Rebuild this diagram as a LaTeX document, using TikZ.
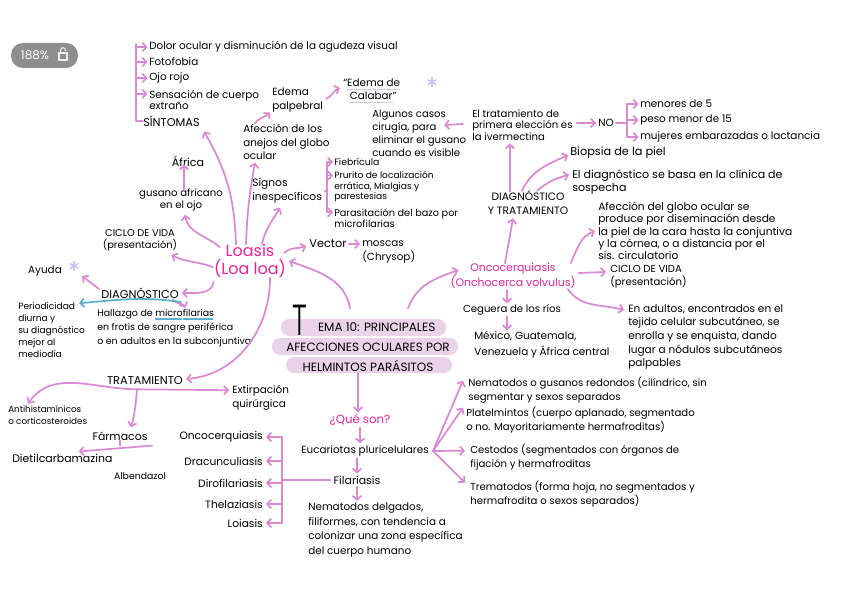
\documentclass[tikz,border=0pt]{standalone}
\usepackage{fontspec}
\setmainfont{Poppins}
\usepackage{graphicx}
\usetikzlibrary{arrows.meta,calc}
\definecolor{pinkline}{HTML}{D98AD2}
\definecolor{pinktext}{HTML}{E0259A}
\definecolor{blueline}{HTML}{5AAFC9}
\definecolor{hilite}{HTML}{EAD3E8}
\definecolor{badgegray}{HTML}{8E8E8E}
\definecolor{lavender}{HTML}{C9CAF3}
\newcommand\fz[2]{\fontsize{#1}{#2}\selectfont}
\newsavebox\ulbox
\newcommand\bul[1]{\sbox\ulbox{#1}\rlap{\color{blueline}\rule[-2.4pt]{\dimexpr\wd\ulbox-0.8pt\relax}{0.9pt}}\usebox\ulbox}
\newcommand\lul[1]{\sbox\ulbox{#1}\rlap{\color{lavender}\rule[-2.4pt]{\wd\ulbox}{1pt}}\usebox\ulbox}
\begin{document}
\begin{tikzpicture}[x=0.75pt,y=0.75pt,
  txt/.style={inner sep=0pt, align=left, font=\fz{7.8}{9.6}, text=black},
  capt/.style={txt, font=\fz{8.5}{10.5}},
  pinkt/.style={inner sep=0pt, align=center, text=pinktext},
  pl/.style={draw=pinkline, line width=1.3pt, line cap=round, line join=round},
  pa/.style={pl, -{Straight Barb[length=3pt,width=6.5pt]}},
  ba/.style={draw=blueline, line width=1.3pt, line cap=round, -{Straight Barb[length=3pt,width=6.5pt]}},
  star/.style={draw=lavender, line width=1.3pt, line cap=round}]

\useasboundingbox (0,0) rectangle (848,-599);
\fill[white] (0,0) rectangle (848,-599);

% badge
\fill[badgegray, rounded corners=9pt] (11,-43) rectangle (78,-68);
\node[inner sep=0pt, text=white, font=\fz{9}{10}] (badge) at (35,-55.5) {188\%};
\draw[white!85!badgegray, line width=0.8pt] (59,-53) rectangle (67,-60);
\draw[white!85!badgegray, line width=0.8pt] (60.7,-53) -- (60.7,-50) arc[start angle=180,end angle=0,radius=2.3] -- (65.3,-51);

% title highlight
\fill[hilite, rounded corners=6pt] (281,-319) rectangle (446,-336);
\fill[hilite, rounded corners=6pt] (272,-338) rectangle (458,-355);
\fill[hilite, rounded corners=6pt] (286,-357) rectangle (452,-373);

% ---------- nodes ----------
\node[txt,anchor=west] (sym1) at (149,-47) {Dolor ocular y disminución de la agudeza visual};
\node[txt,anchor=west] (sym2) at (149,-62) {Fotofobia};
\node[txt,anchor=west] (sym3) at (149,-78) {Ojo rojo};
\node[txt,anchor=west,font=\fz{7.8}{7.2}] (sym4) at (149,-100) {Sensación de cuerpo\\extraño};
\node[capt,anchor=west] (sintomas) at (143,-121) {SÍNTOMAS};

\node[txt,font=\fz{8.3}{10}] (africa) at (188,-161) {África};
\node[txt,align=center,font=\fz{7.6}{9.6}] (gusano) at (181,-200) {gusano africano\\en el ojo};
\node[txt,align=center,font=\fz{7.4}{9.2}] (ciclo1) at (140,-240) {CICLO DE VIDA\\(presentación)};
\node[txt] (ayuda) at (45,-271) {Ayuda};
\node[capt] (diag) at (140,-293) {DIAGNÓSTICO};
\node[txt,anchor=west,font=\fz{6.8}{9}] (period) at (18,-330) {Periodicidad\\diurna y\\su diagnóstico\\mejor al\\mediodía};
\node[txt,anchor=west,font=\fz{7.1}{10.5}] (hall) at (97,-328) {Hallazgo de \bul{micro}\bul{filarias}\\en frotis de sangre periférica\\o en adultos en la subconjuntiva};
\node[capt] (tratam) at (145,-381) {TRATAMIENTO};
\node[txt,anchor=west,font=\fz{7.8}{10.5}] (extir) at (232,-398) {Extirpación\\quirúrgica};
\node[txt,anchor=west,font=\fz{6.6}{8.4}] (antih) at (8,-415) {Antihistamínicos\\o corticosteroides};
\node[txt,font=\fz{8.2}{10}] (farm) at (120,-436) {Fármacos};
\node[txt,anchor=west,font=\fz{8.2}{10}] (dietil) at (12,-458) {Dietilcarbamazina};
\node[txt,font=\fz{7}{9}] (albend) at (140,-476) {Albendazol};

\node[txt,anchor=east,font=\fz{8}{10}] (f1) at (263,-437) {Oncocerquiasis};
\node[txt,anchor=east,font=\fz{8}{10}] (f2) at (263,-461) {Dracunculiasis};
\node[txt,anchor=east,font=\fz{8}{10}] (f3) at (263,-483) {Dirofilariasis};
\node[txt,anchor=east,font=\fz{8}{10}] (f4) at (263,-504) {Thelaziasis};
\node[txt,anchor=east,font=\fz{8}{10}] (f5) at (263,-523) {Loiasis};

\node[pinkt,font=\fz{8.8}{10}] (queson) at (360,-420) {¿Qué son?};
\node[txt] (eucar) at (365,-451) {Eucariotas pluricelulares};
\node[txt,font=\fz{8.2}{10}] (filar) at (357,-480) {Filariasis};
\node[txt,anchor=west,font=\fz{7.8}{10.8}] (nemdel) at (308,-530) {Nematodos delgados,\\filiformes, con tendencia a\\colonizar una zona específica\\del cuerpo humano};

\node[txt,anchor=west,font=\fz{7.6}{10.5}] (nemat) at (468,-390) {Nematodos o gusanos redondos (cilíndrico, sin\\segmentar y sexos separados};
\node[txt,anchor=west,font=\fz{7.6}{10.5}] (plat) at (466,-420) {Platelmintos (cuerpo aplanado, segmentado\\o no. Mayoritariamente hermafroditas)};
\node[txt,anchor=west,font=\fz{7.6}{10.5}] (cest) at (470,-457) {Cestodos (segmentados con órganos de\\fijación y hermafroditas};
\node[txt,anchor=west,font=\fz{7.6}{10.5}] (trem) at (470,-494) {Trematodos (forma hoja, no segmentados y\\hermafrodita o sexos separados)};

\node[txt,align=center,font=\fz{9}{15}] (tema) at (368,-347) {\hspace*{13pt}EMA 10: PRINCIPALES\\AFECCIONES OCULARES POR\\HELMINTOS PARÁSITOS};
\node[inner sep=0pt] (temaT) at (300,-320) {\scalebox{0.52}[1]{\sffamily\fontsize{33}{33}\selectfont T}};

\node[pinkt,font=\fz{12}{13.5}] (loasis) at (250,-261) {Loasis\\(Loa loa)};
\node[txt,anchor=west,font=\fz{7.8}{9.8}] (afec) at (243,-142) {Afección de los\\anejos del globo\\ocular};
\node[txt,anchor=west,font=\fz{7.8}{10.5}] (edema) at (272,-100) {Edema\\palpebral};
\node[txt,anchor=west,font=\fz{7.8}{9.8}] (calabar) at (343,-91) {“\lul{Edema de}\\\hspace*{5pt}\lul{Calabar}”};
\node[txt,anchor=west,font=\fz{8}{10.5}] (signos) at (252,-191) {Signos\\inespecíficos};
\node[txt,anchor=west,font=\fz{7}{8}] (fiebr) at (334,-162) {Fiebrícula};
\node[txt,anchor=west,font=\fz{6.8}{7.8}] (prur) at (334,-187) {Prurito de localización\\errática, Mialgias y\\parestesias};
\node[txt,anchor=west,font=\fz{7.3}{8.4}] (parasit) at (334,-218) {Parasitación del bazo por\\microfilarias};
\node[txt,font=\fz{8.5}{10}] (vector) at (328,-244) {Vector};
\node[txt,anchor=west,font=\fz{7.8}{11}] (moscas) at (362,-252) {moscas\\(Chrysop)};

\node[txt,anchor=west,font=\fz{7.6}{9.8}] (algunos) at (372,-133) {Algunos casos\\cirugía, para\\eliminar el gusano\\cuando es visible};
\node[txt,anchor=west,font=\fz{7.6}{8.4}] (eltrat) at (472,-125) {El tratamiento de\\primera elección es\\la ivermectina};
\node[txt,font=\fz{7.8}{9}] (no) at (606,-123) {NO};
\node[txt,anchor=west] (men) at (640,-104) {menores de 5};
\node[txt,anchor=west] (peso) at (640,-120) {peso menor de 15};
\node[txt,anchor=west] (muj) at (640,-137) {mujeres embarazadas o lactancia};
\node[txt,anchor=west,font=\fz{8.5}{10}] (biopsia) at (570,-153) {Biopsia de la piel};
\node[txt,anchor=west,font=\fz{8.3}{9.2}] (eldiag) at (572,-182) {El diagnóstico se basa en la clínica de\\sospecha};
\node[txt,align=center,font=\fz{8}{10.5}] (diagtrat) at (528,-203) {DIAGNÓSTICO\\Y TRATAMIENTO};
\node[txt,anchor=west,font=\fz{8}{9.2}] (afec2) at (598,-231) {Afección del globo ocular se\\produce por diseminación desde\\la piel de la cara hasta la conjuntiva\\y la córnea, o a distancia por el\\sis. circulatorio};
\node[pinkt,font=\fz{8.2}{11.25}] (onco) at (513,-276) {Oncocerquiasis\\(Onchocerca volvulus)};
\node[txt,anchor=west,font=\fz{7.6}{9.8}] (ciclo2) at (610,-277) {CICLO DE VIDA\\(presentación)};
\node[txt,anchor=west,font=\fz{7.9}{10.3}] (enad) at (628,-337) {En adultos, encontrados en el\\tejido celular subcutáneo, se\\enrolla y se enquista, dando\\lugar a nódulos subcutáneos\\palpables};
\node[txt,font=\fz{7.6}{9}] (ceguera) at (512,-310) {Ceguera de los ríos};
\node[txt,anchor=west,font=\fz{7.8}{12}] (mexico) at (474,-345) {México, Guatemala,\\Venezuela y África central};

% asterisks
\coordinate (ast1) at ($(ayuda.east)+(12,5)$);
\coordinate (ast2) at (432,-82);
\foreach \a in {90,30,150} {\draw[star] (ast1) +(\a:4.5) -- +(\a+180:4.5);}
\foreach \a in {90,30,150} {\draw[star] (ast2) +(\a:4.5) -- +(\a+180:4.5);}

% ---------- connectors ----------
% sintomas bracket
\coordinate (bx) at (136,0);
\draw[pl] (sintomas.west) -- (sintomas.west -| bx) -- ($(sym1.west -| bx)+(0,3)$);
\foreach \n in {sym1,sym2,sym3} {\draw[pa] (\n.west -| bx) -- ($(\n.west)+(-1.5,0)$);}
\draw[pa] ($(sym4.north west -| bx)+(0,-4)$) -- ($(sym4.north west)+(-1.5,-4)$);

% loasis
\draw[pa] ($(gusano.north)+(3,-1)$) -- ($(gusano.north |- africa.south)+(3,2)$);
\draw[pa] ($(loasis.north)+(-14,0)$) to[out=92,in=-60] ($(sintomas.south east)+(4,-5)$);
\draw[pa] ($(loasis.north)+(-4,0)$) to[out=88,in=-100] ($(afec.south west)+(12,-3)$);
\draw[pa] ($(loasis.north)+(12,0)$) to[out=78,in=-120] ($(signos.south west)+(28,-4)$);
\draw[pa] ($(loasis.east)+(-2,8)$) to[out=45,in=200] ($(vector.west)+(-3,-2)$);
\draw[pa] ($(loasis.north west)+(6,-3)$) to[out=140,in=-80] ($(gusano.south)+(4,-3)$);
\draw[pa] ($(loasis.west)+(-1,-6)$) to[out=160,in=-25] ($(ciclo1.south east)+(-6,-4)$);
\draw[pa] ($(loasis.south west)+(0,-4)$) to[out=-100,in=0] ($(diag.east)+(3,0)$);
\draw[pa] ($(loasis.south)+(20,0)$) to[out=-90,in=5] ($(tratam.east)+(3,2)$);

% tema
\draw[pa] ($(tema.north)+(-18,14)$) to[out=100,in=-20] ($(loasis.east)+(3,0)$);
\draw[pa] ($(tema.north)+(40,14)$) to[out=70,in=200] ($(onco.west)+(8,6)$);
\draw[pa] ($(tema.south)+(-10,-1)$) -- ($(queson.north)+(-2,2)$);
\draw[pa] ($(queson.south)+(0,-2)$) -- ($(queson.south |- eucar.north)+(0,2)$);
\draw[pa] ($(filar.north |- eucar.south)+(0,-2)$) -- ($(filar.north)+(0,2)$);
\draw[pa] ($(filar.south)+(0,-2)$) -- ($(filar.south |- nemdel.north)+(0,2)$);

% eucariotas fan
\coordinate (ej) at ($(eucar.east)+(4,0)$);
\draw[pa] (ej) -- ($(nemat.north west)+(-5,-4)$);
\draw[pa] (ej) -- ($(plat.north west)+(-3,-1)$);
\draw[pa] (ej) -- ($(cest.north west)+(-5,-7)$);
\draw[pa] (ej) -- ($(trem.north west)+(-5,-2)$);

% filariasis bracket
\coordinate (fx) at (282,0);
\draw[pl] ($(filar.west)+(-3,0)$) -- (filar.west -| fx);
\draw[pl] (f1.east -| fx) -- (f5.east -| fx);
\foreach \n in {f1,f2,f3,f4,f5} {\draw[pa] (\n.east -| fx) -- ($(\n.east)+(3,0)$);}

% tratamiento
\coordinate (tj) at ($(tratam.south)+(-8,-4)$);
\draw[pa] (tj) -- ($(extir.north west)+(-3,-5)$);
\draw[pa] (tj) to[out=180,in=55] ($(antih.north west)+(20,2)$);
\draw[pa] (tj) to[out=-95,in=75] ($(farm.north)+(11,4)$);
\coordinate (fj) at ($(farm.south)+(0,-5)$);
\draw[pl] (farm.south) -- (fj);
\draw[pa] ($(fj)+(32,0)$) -- ($(dietil.north east)+(-34,2)$);

% diagnostico
\draw[pa] ($(diag.west)+(-2,4)$) -- ($(ayuda.east)+(20,-5)$);
\draw[pa] ($(diag.south east)+(-6,-1)$) to[out=-60,in=110] ($(hall.north west)+(88,1)$);
\coordinate (bs) at (181,-302);
\draw[ba] (bs) to[out=172,in=5] ($(period.north west)+(61,-1)$);

% afeccion / edema
\draw[pa] ($(afec.north west)+(12,1)$) to[out=60,in=225] ($(edema.south west)+(-2,0)$);
\draw[pa] ($(edema.east)+(3,1)$) to[out=25,in=200] ($(calabar.west)+(-3,3)$);

% signos bracket
\coordinate (sx) at (327,0);
\coordinate (sp) at ($(prur.north west)+(0,-4)$);
\coordinate (sq) at ($(parasit.north west)+(0,-4)$);
\draw[pl] ($(signos.east)+(3,0)$) -- (signos.east -| sx);
\draw[pl] (fiebr.west -| sx) -- (sq -| sx);
\draw[pa] (fiebr.west -| sx) -- ($(fiebr.west)+(-1,0)$);
\draw[pa] (sp -| sx) -- ($(sp)+(-1,0)$);
\draw[pa] (sq -| sx) -- ($(sq)+(-1,0)$);

% vector
\draw[pa] ($(vector.east)+(2,0)$) -- ($(vector.east -| moscas.west)+(-2,0)$);

% right side
\draw[pa] ($(eltrat.west)+(-9,1)$) -- ($(eltrat.west)+(-28,0)$);
\draw[pa] ($(eltrat.east |- no.west)+(4,0)$) -- ($(no.west)+(-2,0)$);
\coordinate (nx) at (627,0);
\draw[pl] ($(no.east)+(2,0)$) -- (no.east -| nx);
\draw[pl] (men.west -| nx) -- (muj.west -| nx);
\foreach \n in {men,peso,muj} {\draw[pa] (\n.west -| nx) -- ($(\n.west)+(-1.5,0)$);}

\coordinate (dt1) at ($(diagtrat.north)+(-18,-1)$);
\draw[pa] (dt1) -- ($(dt1 |- eltrat.south)+(0,-3)$);
\draw[pa] ($(diagtrat.north)+(-6,0)$) to[out=65,in=205] ($(biopsia.west)+(-2,-2)$);
\draw[pa] ($(diagtrat.north)+(9,0)$) to[out=40,in=195] ($(eldiag.north west)+(-3,-5)$);

\draw[pa] ($(onco.north)+(-8,0)$) -- ($(diagtrat.south)+(-15,-3)$);
\draw[pa] ($(onco.north east)+(-5,0)$) to[out=65,in=200] ($(afec2.west)+(-3,0)$);
\draw[pa] ($(onco.east)+(3,3)$) -- ($(ciclo2.west)+(-4,5)$);
\draw[pa] ($(onco.south east)+(-8,0)$) to[out=-55,in=165] ($(enad.north west)+(-4,-6)$);
\coordinate (oc) at ($(onco.south)+(-6,-1)$);
\draw[pa] (oc) -- ($(oc |- ceguera.north)+(0,1)$);
\coordinate (cg) at ($(ceguera.south)+(-5,-1)$);
\draw[pa] (cg) -- ($(cg |- mexico.north)+(0,1)$);
\end{tikzpicture}
\end{document}
